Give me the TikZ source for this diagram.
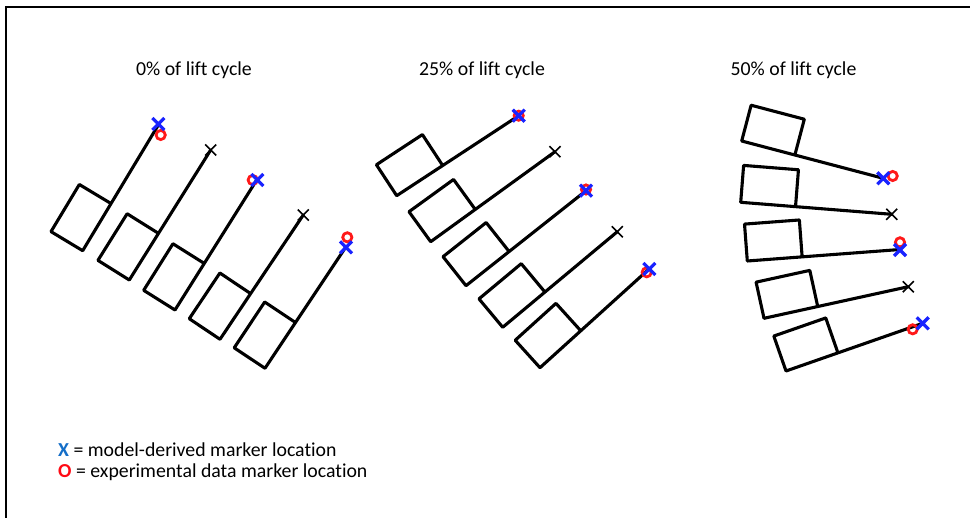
\documentclass[tikz,border=0pt]{standalone}
\usepackage{fontspec}
\setmainfont{Carlito}[Ligatures=NoCommon]
\usetikzlibrary{calc}
\definecolor{mblue}{RGB}{25,35,255}
\definecolor{mred}{RGB}{255,25,25}
\definecolor{lblue}{RGB}{20,110,200}
\definecolor{lred}{RGB}{255,10,20}
\tikzset{
  rod/.style={line width=3.1pt, line join=round, line cap=round},
  title/.style={anchor=base, inner sep=0pt, font=\fontsize{19.8}{24}\selectfont},
  legend/.style={anchor=base west, inner sep=0pt, font=\fontsize{19.8}{24}\selectfont},
  bluex/.pic={\draw[mblue, line width=3.2pt] (-6,-6) -- (6,6) (-6,6) -- (6,-6);},
  blackx/.pic={\draw[black, line width=1.6pt] (-5.5,-5.5) -- (5.5,5.5) (-5.5,5.5) -- (5.5,-5.5);},
  redo/.style={mred, line width=2.8pt},
}
\newcommand\limb[3]{%
  \coordinate (#1D) at #2;
  \coordinate (#1T) at #3;
  \coordinate (#1C) at ($(#1D)!55pt!(#1T)$);
  \coordinate (#1A) at ($(#1D)!37pt!90:(#1T)$);
  \coordinate (#1B) at ($(#1A)+(#1C)-(#1D)$);
  \draw[rod] (#1T) -- (#1D) -- (#1A) -- (#1B) -- (#1C);
}
\begin{document}
\begin{tikzpicture}[x=1pt, y=-1pt]
\useasboundingbox (0,0) rectangle (970,518);
\fill[white] (0,0) rectangle (970,518);
\draw[line width=2pt] (6,518) -- (6,7) -- (970,7);

% titles
\node[title] (t0) at (194,76) {0\% of lift cycle};
\node[title] (t25) at (482,76) {25\% of lift cycle};
\node[title] (t50) at (793.5,76) {50\% of lift cycle};

% group 1 (0%)
\limb{a1}{(82.7,250.7)}{(158.3,125)}
\limb{a2}{(129.3,280)}{(210.7,150)}
\limb{a3}{(175,310)}{(256.7,180)}
\limb{a4}{(220,339.3)}{(303.3,215)}
\limb{a5}{(265,368.3)}{(346,246.7)}

% group 2 (25%)
\limb{b1}{(396.7,195.7)}{(518.7,115.7)}
\limb{b2}{(430.7,241.7)}{(555,151.7)}
\limb{b3}{(466,285.7)}{(586,190.7)}
\limb{b4}{(502.7,327.3)}{(617.3,231.7)}
\limb{b5}{(540,367.7)}{(648.5,269.5)}

% group 3 (50%)
\limb{c1}{(741.7,141)}{(883.3,178.3)}
\limb{c2}{(740.7,202.3)}{(891.7,214.3)}
\limb{c3}{(747.3,261)}{(900,249.5)}
\limb{c4}{(764,318.3)}{(908.3,286.7)}
\limb{c5}{(786,371)}{(922.7,323.3)}

% experimental markers (red circles)
\draw[redo] (160.7,135) circle[radius=4.6pt];
\draw[redo] (252.7,180) circle[radius=4.6pt];
\draw[redo] (347.3,237.3) circle[radius=4.6pt];
\draw[redo] (518.7,115.7) circle[radius=4.6pt];
\draw[redo] (586,189.5) circle[radius=4.6pt];
\draw[redo] (646.7,272.3) circle[radius=4.6pt];
\draw[redo] (892.7,176) circle[radius=4.6pt];
\draw[redo] (900,242.3) circle[radius=4.6pt];
\draw[redo] (912.7,329.3) circle[radius=4.6pt];

% model markers (blue x)
\pic at (158.3,124) {bluex};
\pic at (257.3,180) {bluex};
\pic at (346,247.3) {bluex};
\pic at (518.7,115.7) {bluex};
\pic at (586,190.7) {bluex};
\pic at (649.3,269) {bluex};
\pic at (883.3,178.3) {bluex};
\pic at (900,250) {bluex};
\pic at (922.7,323.3) {bluex};

% plain markers (black x)
\pic at (a2T) {blackx};
\pic at (a4T) {blackx};
\pic at (b2T) {blackx};
\pic at (b4T) {blackx};
\pic at (c2T) {blackx};
\pic at (c4T) {blackx};

% legend
\node[legend] (l1) at (58,457) {\textcolor{lblue}{\textbf{X}} = model-derived marker location};
\node[legend] (l2) at (58,478) {\textcolor{lred}{\textbf{O}} = experimental data marker location};
\end{tikzpicture}
\end{document}
